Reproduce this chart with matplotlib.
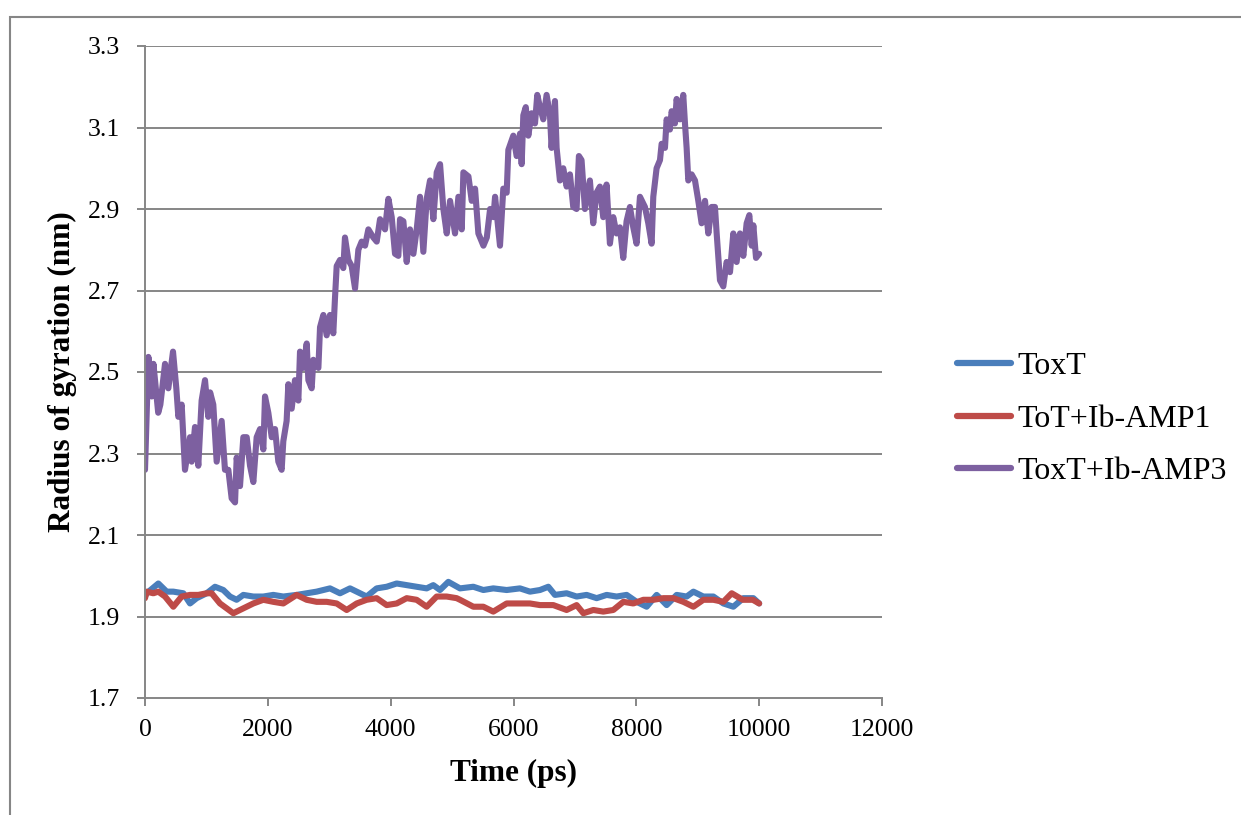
import matplotlib
matplotlib.use("Agg")
import matplotlib.pyplot as plt
from matplotlib.patches import Rectangle

plt.rcParams['font.family'] = ['Liberation Serif', 'DejaVu Serif']

# --- Datos ---
t_toxt = [0, 27, 217, 353, 461, 624, 733, 841, 1004, 1140, 1275, 1384, 1492, 1601, 1764, 1926,
          2089, 2252, 2469, 2632, 2795, 3012, 3175, 3338, 3501, 3609, 3772, 3935, 4098, 4261,
          4423, 4586, 4694, 4803, 4939, 5129, 5346, 5509, 5671, 5889, 6105, 6268, 6431, 6567,
          6675, 6865, 7028, 7191, 7354, 7517, 7679, 7842, 8005, 8168, 8331, 8494, 8657, 8820,
          8929, 9091, 9254, 9417, 9580, 9742, 9905, 10000]
rg_toxt = [1.950, 1.957, 1.981, 1.961, 1.961, 1.957, 1.932, 1.945, 1.957, 1.973, 1.965, 1.949,
           1.941, 1.953, 1.949, 1.949, 1.953, 1.949, 1.953, 1.957, 1.961, 1.969, 1.957, 1.969,
           1.957, 1.949, 1.969, 1.973, 1.981, 1.977, 1.973, 1.969, 1.977, 1.965, 1.985, 1.969,
           1.973, 1.965, 1.969, 1.965, 1.969, 1.961, 1.965, 1.973, 1.953, 1.957, 1.949, 1.953,
           1.945, 1.953, 1.949, 1.953, 1.936, 1.924, 1.953, 1.928, 1.953, 1.949, 1.961, 1.949,
           1.949, 1.932, 1.924, 1.945, 1.945, 1.932]

t_amp1 = [0, 27, 136, 217, 326, 461, 597, 733, 868, 1004, 1085, 1221, 1330, 1438, 1601, 1764,
          1926, 2089, 2252, 2469, 2632, 2795, 2958, 3121, 3284, 3447, 3609, 3772, 3935, 4098,
          4261, 4423, 4586, 4749, 4911, 5074, 5129, 5346, 5509, 5671, 5889, 6105, 6268, 6431,
          6648, 6865, 7028, 7137, 7300, 7462, 7625, 7788, 7951, 8114, 8277, 8440, 8603, 8766,
          8929, 9091, 9254, 9417, 9553, 9733, 9896, 10000]
rg_amp1 = [1.945, 1.961, 1.957, 1.961, 1.949, 1.924, 1.949, 1.953, 1.953, 1.957, 1.957, 1.932,
           1.920, 1.908, 1.920, 1.932, 1.941, 1.936, 1.932, 1.953, 1.941, 1.936, 1.936, 1.932,
           1.916, 1.932, 1.941, 1.945, 1.928, 1.932, 1.945, 1.941, 1.924, 1.949, 1.949, 1.945,
           1.941, 1.924, 1.924, 1.912, 1.932, 1.932, 1.932, 1.928, 1.928, 1.916, 1.928, 1.908,
           1.916, 1.912, 1.916, 1.936, 1.932, 1.941, 1.941, 1.945, 1.945, 1.936, 1.924, 1.941,
           1.941, 1.936, 1.957, 1.941, 1.941, 1.932]

t_amp3 = [0, 55, 110, 137, 215, 250, 326, 380, 456, 510, 543, 597, 651, 733, 760, 814, 868, 922,
          977, 1030, 1060, 1112, 1167, 1248, 1302, 1357, 1411, 1466, 1493, 1547, 1601, 1656,
          1710, 1764, 1818, 1873, 1927, 1954, 2008, 2063, 2117, 2171, 2225, 2252, 2306, 2334,
          2388, 2442, 2497, 2524, 2578, 2633, 2660, 2714, 2741, 2823, 2850, 2904, 2958, 3012,
          3066, 3093, 3121, 3175, 3229, 3256, 3311, 3365, 3420, 3474, 3528, 3583, 3637, 3718,
          3773, 3827, 3908, 3963, 4017, 4071, 4125, 4152, 4207, 4261, 4315, 4370, 4424, 4478,
          4532, 4587, 4641, 4695, 4750, 4804, 4858, 4913, 4967, 5048, 5103, 5157, 5184, 5266,
          5320, 5374, 5428, 5510, 5565, 5619, 5673, 5700, 5780, 5834, 5889, 5916, 5997, 6051,
          6106, 6133, 6160, 6200, 6241, 6295, 6350, 6387, 6431, 6485, 6539, 6594, 6620, 6675,
          6702, 6756, 6810, 6865, 6919, 6973, 7027, 7065, 7108, 7163, 7244, 7298, 7352, 7407,
          7461, 7515, 7570, 7624, 7678, 7733, 7787, 7841, 7896, 7950, 8004, 8059, 8140, 8195,
          8249, 8276, 8330, 8385, 8412, 8466, 8493, 8547, 8575, 8629, 8656, 8710, 8764, 8792,
          8819, 8846, 8900, 8955, 9009, 9063, 9118, 9172, 9226, 9280, 9308, 9362, 9416, 9470,
          9525, 9579, 9633, 9688, 9742, 9796, 9840, 9878, 9905, 9949, 10000]
rg_amp3 = [2.26, 2.537, 2.44, 2.52, 2.40, 2.42, 2.52, 2.46, 2.55, 2.46, 2.39, 2.42, 2.26, 2.34,
           2.28, 2.365, 2.27, 2.43, 2.48, 2.39, 2.45, 2.42, 2.28, 2.38, 2.26, 2.26, 2.19, 2.18,
           2.29, 2.22, 2.34, 2.34, 2.27, 2.23, 2.34, 2.36, 2.31, 2.44, 2.40, 2.34, 2.36, 2.28,
           2.26, 2.33, 2.38, 2.47, 2.41, 2.48, 2.43, 2.55, 2.51, 2.57, 2.48, 2.46, 2.53, 2.51,
           2.61, 2.64, 2.59, 2.64, 2.595, 2.68, 2.76, 2.775, 2.755, 2.83, 2.775, 2.76, 2.705,
           2.80, 2.82, 2.81, 2.85, 2.83, 2.82, 2.875, 2.85, 2.925, 2.88, 2.79, 2.785, 2.875,
           2.87, 2.77, 2.85, 2.79, 2.85, 2.93, 2.795, 2.925, 2.97, 2.875, 2.99, 3.01, 2.90, 2.84,
           2.92, 2.84, 2.93, 2.85, 2.99, 2.98, 2.92, 2.95, 2.84, 2.81, 2.83, 2.90, 2.88, 2.93,
           2.81, 2.95, 2.94, 3.045, 3.08, 3.03, 3.085, 3.01, 3.13, 3.15, 3.08, 3.135, 3.11, 3.18,
           3.15, 3.12, 3.18, 3.13, 3.05, 3.165, 3.05, 2.97, 3.0, 2.955, 2.985, 2.905, 2.90, 3.03,
           3.02, 2.90, 2.97, 2.865, 2.94, 2.955, 2.88, 2.96, 2.815, 2.88, 2.84, 2.855, 2.78, 2.87,
           2.905, 2.855, 2.815, 2.93, 2.905, 2.865, 2.815, 2.93, 3.0, 3.02, 3.06, 3.05, 3.12,
           3.095, 3.14, 3.11, 3.17, 3.12, 3.18, 3.11, 3.05, 2.97, 2.985, 2.97, 2.92, 2.865, 2.92,
           2.84, 2.905, 2.905, 2.84, 2.725, 2.71, 2.77, 2.745, 2.84, 2.77, 2.84, 2.785, 2.865,
           2.885, 2.81, 2.86, 2.78, 2.79]

etiquetas = ['ToxT', 'ToT+Ib-AMP1', 'ToxT+Ib-AMP3']
colores = ['#4A7EBB', '#BE4B48', '#7D60A0']
x_ticks = [0, 2000, 4000, 6000, 8000, 10000, 12000]
y_ticks = [1.7, 1.9, 2.1, 2.3, 2.5, 2.7, 2.9, 3.1, 3.3]

# --- Figura ---
fig = plt.figure(figsize=(12.41, 8.15), dpi=100)
ax = fig.add_axes([145 / 1241, 1 - 698 / 815, 737 / 1241, 652 / 815])
gris = '#868686'

for y in y_ticks[1:]:
    ax.axhline(y, color=gris, lw=1.4, zorder=0)

ax.plot(t_toxt, rg_toxt, color=colores[0], lw=4.4, label=etiquetas[0],
        solid_capstyle='round', solid_joinstyle='round')
ax.plot(t_amp1, rg_amp1, color=colores[1], lw=4.4, label=etiquetas[1],
        solid_capstyle='round', solid_joinstyle='round')
ax.plot(t_amp3, rg_amp3, color=colores[2], lw=4.4, label=etiquetas[2],
        solid_capstyle='round', solid_joinstyle='round')

ax.set_xlim(0, 12000)
ax.set_ylim(1.7, 3.3)
ax.set_xticks(x_ticks)
ax.set_xticklabels([str(v) for v in x_ticks])
ax.set_yticks(y_ticks)
ax.set_yticklabels([f"{v:.1f}" for v in y_ticks])
ax.tick_params(axis='both', direction='out', length=6, width=1.4, color=gris,
               labelsize=18.5, labelcolor='black')
ax.tick_params(axis='y', pad=12)
ax.tick_params(axis='x', pad=9)

for lado in ['top', 'right']:
    ax.spines[lado].set_visible(False)
for lado in ['left', 'bottom']:
    ax.spines[lado].set_color(gris)
    ax.spines[lado].set_linewidth(1.4)

ax.set_xlabel("Time (ps)", fontsize=22.5, fontweight='bold', va='center')
ax.xaxis.set_label_coords(0.5, (698 - 773) / 652)
ax.set_ylabel("Radius of gyration (nm)", fontsize=22.5, fontweight='bold', va='center')
ax.yaxis.set_label_coords((62 - 145) / 737, 0.5)

leg = ax.legend(loc='center left', bbox_to_anchor=(957 / 1241, 1 - 419 / 815),
                bbox_transform=fig.transFigure, frameon=False, fontsize=23,
                handlelength=1.7, handletextpad=0.2, labelspacing=0.72,
                borderpad=0, borderaxespad=0)
for linea in leg.get_lines():
    linea.set_linewidth(4.5)
    linea.set_solid_capstyle('round')

# --- Marco del area del grafico ---
fig.add_artist(Rectangle((9.5 / 1241, -0.1), 1.2, (815 - 17) / 815 + 0.1,
                         transform=fig.transFigure, fill=False, edgecolor=gris,
                         lw=1.5, clip_on=False))

plt.savefig("out.png", dpi=100)
plt.close()
